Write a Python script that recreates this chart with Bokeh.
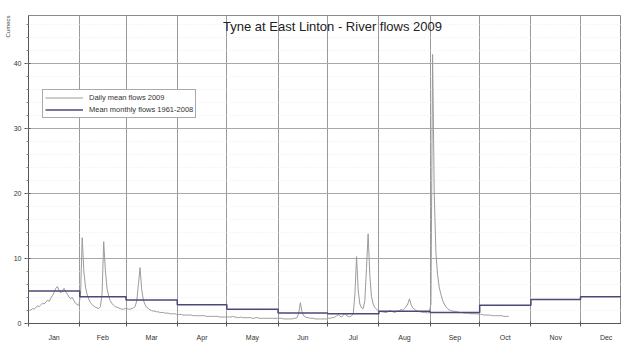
import math
from bokeh.plotting import figure
from bokeh.models import (FixedTicker, Label, Legend, LegendItem, Range1d, ColumnDataSource, Title)
from bokeh.embed import file_html
from bokeh.resources import INLINE

# ---------------- data ----------------
months = ["Jan", "Feb", "Mar", "Apr", "May", "Jun", "Jul", "Aug", "Sep", "Oct", "Nov", "Dec"]
month_days = [31, 28, 31, 30, 31, 30, 31, 31, 30, 31, 30, 31]

# mean monthly flows 1961-2008 (cumecs)
monthly_mean = [5.0, 4.1, 3.6, 2.9, 2.2, 1.6, 1.5, 1.9, 1.7, 2.8, 3.7, 4.1]

# daily mean flows 2009 (cumecs), Jan 1 .. Oct 18
daily_jan = [2.0, 2.1, 2.3, 2.2, 2.5, 2.7, 2.6, 2.9, 3.1, 3.0, 3.3, 3.6, 3.4, 3.9, 4.3, 4.8,
             5.4, 5.7, 5.1, 4.7, 5.0, 5.4, 4.9, 4.5, 4.1, 3.8, 4.0, 3.5, 3.1, 2.9, 2.8]
daily_feb = [4.5, 13.2, 8.0, 5.6, 4.4, 3.7, 3.2, 2.9, 2.7, 2.5, 2.4, 2.3, 2.6, 4.5, 12.6, 8.2,
             5.4, 4.2, 3.5, 3.1, 2.8, 2.6, 2.5, 2.4, 2.3, 2.2, 2.2, 2.3]
daily_mar = [2.3, 2.2, 2.2, 2.3, 2.4, 2.6, 3.5, 6.0, 8.6, 5.2, 3.6, 2.9, 2.5, 2.3, 2.1, 2.0,
             1.9, 1.9, 1.8, 1.8, 1.7, 1.7, 1.7, 1.6, 1.6, 1.6, 1.5, 1.5, 1.5, 1.5, 1.4]
daily_apr = [1.4, 1.4, 1.4, 1.3, 1.3, 1.3, 1.3, 1.3, 1.3, 1.2, 1.2, 1.2, 1.2, 1.2, 1.2, 1.2,
             1.2, 1.1, 1.1, 1.1, 1.1, 1.1, 1.1, 1.1, 1.1, 1.0, 1.0, 1.0, 1.0, 1.0]
daily_may = [1.0, 1.0, 1.0, 1.1, 1.0, 1.0, 0.9, 0.9, 1.0, 0.9, 0.9, 0.9, 0.9, 0.9, 0.9, 0.8,
             0.8, 0.9, 0.9, 0.8, 0.8, 0.8, 0.8, 0.8, 0.8, 0.8, 0.8, 0.8, 0.8, 0.8, 0.8]
daily_jun = [0.8, 0.8, 0.8, 0.7, 0.7, 0.7, 0.7, 0.7, 0.7, 0.8, 0.8, 0.9, 1.6, 3.2, 1.8, 1.2,
             1.0, 0.9, 0.9, 0.8, 0.8, 0.8, 0.7, 0.7, 0.7, 0.7, 0.7, 0.7, 0.7, 0.7]
daily_jul = [0.8, 0.8, 0.9, 0.9, 1.0, 1.2, 1.4, 1.1, 1.0, 1.3, 1.6, 1.2, 1.1, 1.0, 1.2, 1.5,
             4.5, 10.3, 5.0, 3.0, 2.4, 2.3, 3.5, 8.5, 13.8, 7.5, 4.2, 3.0, 2.5, 2.2, 2.0]
daily_aug = [1.9, 1.8, 1.8, 1.7, 1.7, 1.8, 2.0, 1.9, 1.8, 1.7, 1.8, 1.9, 2.0, 2.2, 2.0, 2.3,
             2.6, 3.0, 3.8, 2.9, 2.4, 2.2, 2.0, 1.9, 1.8, 1.8, 1.7, 1.7, 1.7, 1.6, 1.7]
daily_sep = [3.0, 41.4, 20.0, 11.0, 7.5, 5.6, 4.5, 3.6, 3.0, 2.6, 2.3, 2.1, 2.0, 1.9, 1.9, 1.8,
             1.8, 1.7, 1.7, 1.7, 1.6, 1.6, 1.6, 1.6, 1.5, 1.5, 1.5, 1.5, 1.5, 1.4]
daily_oct = [1.4, 1.4, 1.3, 1.3, 1.3, 1.3, 1.3, 1.2, 1.2, 1.2, 1.2, 1.2, 1.2, 1.2, 1.1, 1.1,
             1.1, 1.1]

y_ticks = [0, 10, 20, 30, 40]
title_text = "Tyne at East Linton - River flows 2009"
y_label = "Cumecs"
legend_daily = "Daily mean flows 2009"
legend_monthly = "Mean monthly flows 1961-2008"

# ---------------- derived ----------------
month_starts = [0]
for d in month_days:
    month_starts.append(month_starts[-1] + d)
month_mids = [(month_starts[i] + month_starts[i + 1]) / 2 for i in range(12)]

daily = (daily_jan + daily_feb + daily_mar + daily_apr + daily_may + daily_jun +
         daily_jul + daily_aug + daily_sep + daily_oct)
daily_x = [i + 0.5 for i in range(len(daily))]

step_x = month_starts
step_y = monthly_mean + [monthly_mean[-1]]

FONT = "Liberation Sans"

p = figure(width=621, height=343, output_backend="svg", toolbar_location=None,
           x_range=Range1d(0, 358.8), y_range=Range1d(0, 47.4),
           min_border_left=28, min_border_right=0, min_border_top=15, min_border_bottom=15,
           background_fill_color="white", border_fill_color="white")
p.outline_line_color = "#8a8a8a"
p.outline_line_width = 1

# grids
p.xgrid.ticker = FixedTicker(ticks=month_starts)
p.xgrid.grid_line_color = "#9a9a9a"
p.xgrid.grid_line_width = 1
p.ygrid.ticker = FixedTicker(ticks=y_ticks, minor_ticks=[v for v in range(0, 48, 2)])
p.ygrid.grid_line_color = "#a8a8a8"
p.ygrid.grid_line_width = 1
p.ygrid.minor_grid_line_color = "#ececec"
p.ygrid.minor_grid_line_dash = "1 2"

# axes
p.xaxis.ticker = FixedTicker(ticks=month_mids, minor_ticks=month_starts)
p.xaxis.major_label_overrides = {m: months[i] for i, m in enumerate(month_mids)}
p.xaxis.major_tick_line_color = None
p.xaxis.minor_tick_out = 3
p.xaxis.minor_tick_in = 2
p.xaxis.minor_tick_line_color = "#555555"
p.xaxis.axis_line_color = "#555555"
p.xaxis.major_label_text_font = FONT
p.xaxis.major_label_text_font_size = "7px"
p.xaxis.major_label_text_color = "#333333"
p.xaxis.major_label_standoff = 4

p.yaxis.ticker = FixedTicker(ticks=y_ticks, minor_ticks=[v for v in range(0, 48, 2)])
p.yaxis.axis_line_color = "#555555"
p.yaxis.major_tick_line_color = "#555555"
p.yaxis.major_tick_out = 4
p.yaxis.major_tick_in = 2
p.yaxis.minor_tick_out = 2
p.yaxis.minor_tick_in = 0
p.yaxis.minor_tick_line_color = "#888888"
p.yaxis.major_label_text_font = FONT
p.yaxis.major_label_text_font_size = "7px"
p.yaxis.major_label_text_color = "#333333"
p.yaxis.major_label_standoff = 3

# series
src_d = ColumnDataSource(dict(x=daily_x, y=daily))
r_daily = p.line("x", "y", source=src_d, line_color="#9c9a9c", line_width=1)
src_m = ColumnDataSource(dict(x=step_x, y=step_y))
r_month = p.step("x", "y", source=src_m, mode="after", line_color="#4a4a78", line_width=1.5)

# title inside plot
p.add_layout(Label(x=304, y=313 - 16, x_units="screen", y_units="screen", text=title_text,
                   text_font=FONT, text_font_size="13px", text_color="#222222",
                   text_align="center", text_baseline="middle"))

# y label rotated at top-left (left side panel)
p.add_layout(Title(text=y_label, align="right", text_font=FONT, text_font_size="6px",
                   text_color="#444444", text_font_style="normal", standoff=0, offset=0), "left")

legend = Legend(items=[LegendItem(label=legend_daily, renderers=[r_daily]),
                       LegendItem(label=legend_monthly, renderers=[r_month])],
                location=(14, 313 - 80 - 28))
legend.label_text_font = FONT
legend.label_text_font_size = "7.5px"
legend.label_text_color = "#333333"
legend.glyph_width = 38
legend.glyph_height = 11
legend.label_height = 11
legend.label_standoff = 6
legend.spacing = 1
legend.padding = 2
legend.margin = 0
legend.border_line_color = "#555555"
legend.border_line_width = 1
legend.background_fill_alpha = 1.0
p.add_layout(legend, "center")

open("out.html", "w").write(file_html(p, INLINE))
